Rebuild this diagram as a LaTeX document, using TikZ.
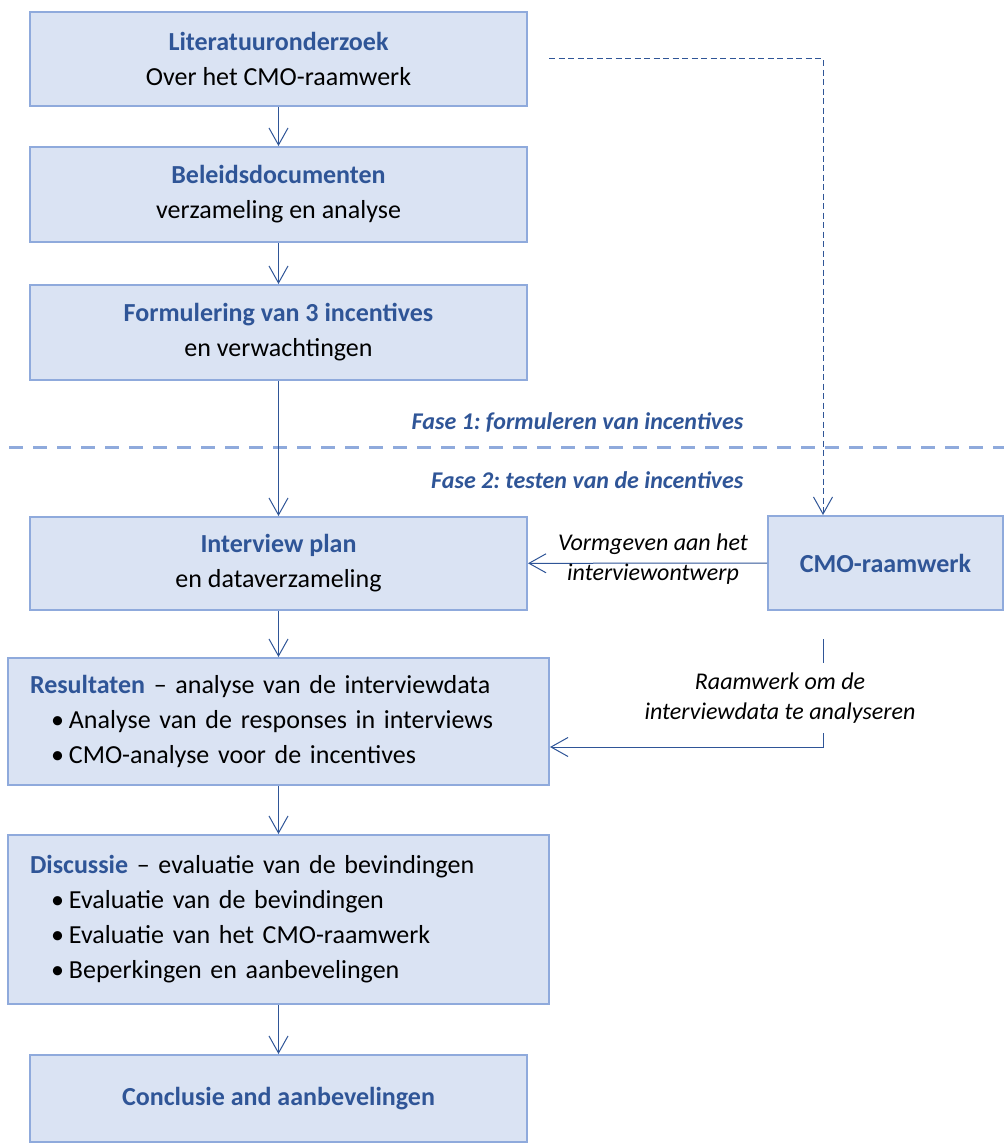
\documentclass[tikz,border=0pt]{standalone}
\usepackage{fontspec}
\setmainfont{Carlito}
\usepackage{xcolor}
\usetikzlibrary{arrows.meta,positioning,calc}
\definecolor{BoxFill}{HTML}{DAE3F3}
\definecolor{BoxLine}{HTML}{8FAADC}
\definecolor{DeepBlue}{HTML}{2F5597}
\newcommand{\hd}[1]{\textbf{\color{DeepBlue}#1}}
\newcommand{\itm}{\hspace*{21pt}\textbullet\hspace{5pt}}
\frenchspacing

\begin{document}
\begin{tikzpicture}[x=1pt, y=-1pt,
	box/.style={draw=BoxLine, fill=BoxFill, line width=2pt, align=center,
		font=\fontsize{26}{35}\selectfont, inner sep=0pt},
	listbox/.style={box, align=left, text width=497pt, inner xsep=22pt},
	flow/.style={draw=DeepBlue, line width=1pt, -{Straight Barb[length=17pt, width=19pt]}},
	dashflow/.style={flow, dash pattern=on 6pt off 3.5pt},
	phase/.style={draw=BoxLine, line width=3pt, dash pattern=on 14pt off 10pt},
	phaselabel/.style={anchor=east, text=DeepBlue, font=\fontsize{24}{28}\selectfont\bfseries\itshape},
	edgelabel/.style={align=center, font=\fontsize{24}{30}\selectfont\itshape}
	]
	\useasboundingbox (0,0) rectangle (1004,1145);
	
	% fase 1
	\node[box, minimum width=497, minimum height=94] (lit) at (278.5,59)
		{\hd{Literatuuronderzoek}\\Over het CMO-raamwerk};
	\node[box, minimum width=497, minimum height=95] (bel) at (278.5,194.5)
		{\hd{Beleidsdocumenten}\\verzameling en analyse};
	\node[box, minimum width=497, minimum height=95] (form) at (278.5,332.5)
		{\hd{Formulering van 3 incentives}\\en verwachtingen};
	
	% scheiding tussen de fases
	\draw[phase] (9,447) -- (1004,447);
	\node[phaselabel] (fase1) at (747,422) {Fase 1: formuleren van incentives};
	\node[phaselabel] (fase2) at (747,480) {Fase 2: testen van de incentives};
	
	% fase 2
	\node[box, minimum width=497, minimum height=93] (intv) at (278.5,563.5)
		{\hd{Interview plan}\\en dataverzameling};
	\node[box, minimum width=235, minimum height=94] (cmo) at (885.5,563)
		{\hd{CMO-raamwerk}};
	\node[listbox, minimum width=541, minimum height=127] (res) at (278.5,721.5)
		{\hd{Resultaten} \textendash\ analyse van de interviewdata\\
		\itm Analyse van de responses in interviews\\
		\itm CMO-analyse voor de incentives};
	\node[listbox, minimum width=541, minimum height=169] (disc) at (278.5,919.5)
		{\hd{Discussie} \textendash\ evaluatie van de bevindingen\\
		\itm Evaluatie van de bevindingen\\
		\itm Evaluatie van het CMO-raamwerk\\
		\itm Beperkingen en aanbevelingen};
	\node[box, minimum width=497, minimum height=87] (conc) at (278.5,1098.5)
		{\hd{Conclusie and aanbevelingen}};
	
	% pijlen
	\draw[flow] (lit) -- (bel);
	\draw[flow] (bel) -- (form);
	\draw[flow] (form) -- (intv);
	\draw[flow] (intv) -- (res);
	\draw[flow] (res) -- (disc);
	\draw[flow] (disc) -- (conc);
	
	\coordinate (top) at ([xshift=21pt]lit.east);
	\draw[dashflow] (top) -| ([xshift=56pt]cmo.north west);
	
	\draw[flow] (cmo) -- (intv);
	\node[edgelabel] (vorm) at (653,559) {Vormgeven aan het\\interviewontwerp};
	
	\coordinate (rs) at ([xshift=56pt,yshift=-28pt]cmo.south west);
	\coordinate (re) at (rs |- 0,747);
	\draw[flow] (rs) -- (re) -- (res.east |- re);
	\node[edgelabel, fill=white, inner ysep=10pt] (raam) at (780,698)
		{Raamwerk om de\\interviewdata te analyseren};
\end{tikzpicture}
\end{document}
